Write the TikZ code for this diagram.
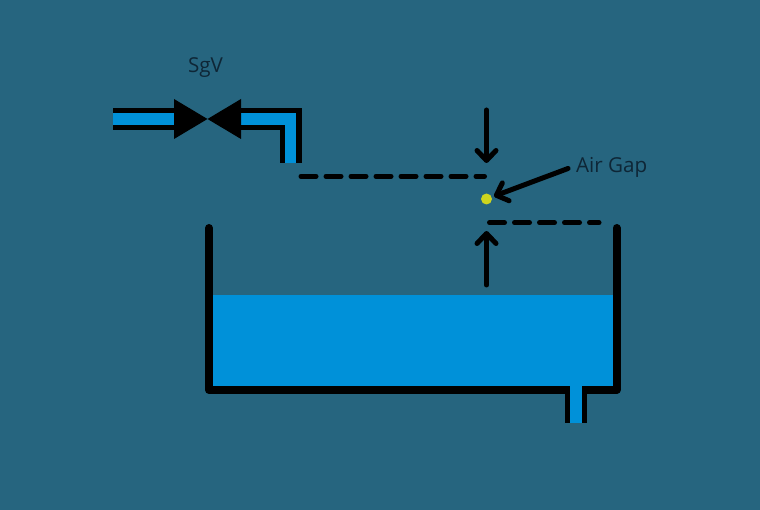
\documentclass[tikz,border=0pt]{standalone}
\usepackage{fontspec}
\setmainfont{Open Sans}
\usetikzlibrary{arrows.meta}
\definecolor{bgteal}{RGB}{38,101,127}
\definecolor{waterblue}{RGB}{0,145,217}
\definecolor{dotyellow}{RGB}{205,213,30}
\definecolor{labelink}{RGB}{14,38,54}

\begin{document}
\begin{tikzpicture}[x=1pt, y=-1pt,
  pipeouter/.style={line width=22.5pt, draw=black, miter limit=10},
  pipeinner/.style={line width=11.5pt, draw=waterblue, miter limit=10},
  wall/.style={line width=8pt, draw=black, line cap=round, line join=round},
  gapline/.style={line width=5pt, draw=black, line cap=round, dash pattern=on 15pt off 10pt},
  pointer/.style={line width=5pt, draw=black, line cap=round, -{Straight Barb[length=10pt,width=19pt,round]}},
  tag/.style={text=labelink, font=\fontsize{20.6}{24}\selectfont, inner sep=0pt}
]

% Background
\useasboundingbox (0,0) rectangle (760,510);
\fill[bgteal] (0,0) rectangle (760,510);

% Water
\fill[waterblue] (212,295.5) rectangle (614,388);

% Drain
\draw[line width=22pt, draw=black] (576,388) -- (576,422.7);
\draw[line width=11.5pt, draw=waterblue] (576,380) -- (576,422.7);

% Tank
\draw[wall] (209,228) -- (209,390) -- (616.5,390) -- (616.5,228);
\draw[line width=11.5pt, draw=waterblue] (576,385) -- (576,395);

% Supply pipe
\draw[pipeouter] (113,119) -- (180,119);
\draw[pipeinner] (113,119) -- (180,119);
\draw[pipeouter] (235,119) -- (291,119) -- (291,162.7);
\draw[pipeinner] (235,119) -- (290.5,119) -- (290.5,162.7);

% Valve
\fill[black] (174,99) -- (207.5,119) -- (174,139) -- cycle;
\fill[black] (241,99) -- (207.5,119) -- (241,139) -- cycle;

% Rim lines
\draw[gapline] (301,176.3) -- (484.5,176.3);
\draw[gapline] (489.5,222.7) -- (599,222.7);

% Labels
\node[tag] (sgv) at (205.5,68) {SgV};
\node[tag, anchor=west] (airgap) at (576,167) {Air Gap};

% Gap point
\node[circle, fill=dotyellow, minimum size=11pt, inner sep=0pt, outer sep=2.5pt] (gappoint) at (486.5,199) {};

% Free ends of the arrows
\coordinate (upperstart) at (486.5,110);
\coordinate (uppertip) at (486.5,163);
\coordinate (lowerstart) at (486.5,285);
\coordinate (lowertip) at (486.5,231);
\coordinate (tagstart) at (568,168.5);

% Arrows
\draw[pointer] (upperstart) -- (uppertip);
\draw[pointer] (lowerstart) -- (lowertip);
\draw[pointer] (tagstart) -- (gappoint);

\end{tikzpicture}
\end{document}
